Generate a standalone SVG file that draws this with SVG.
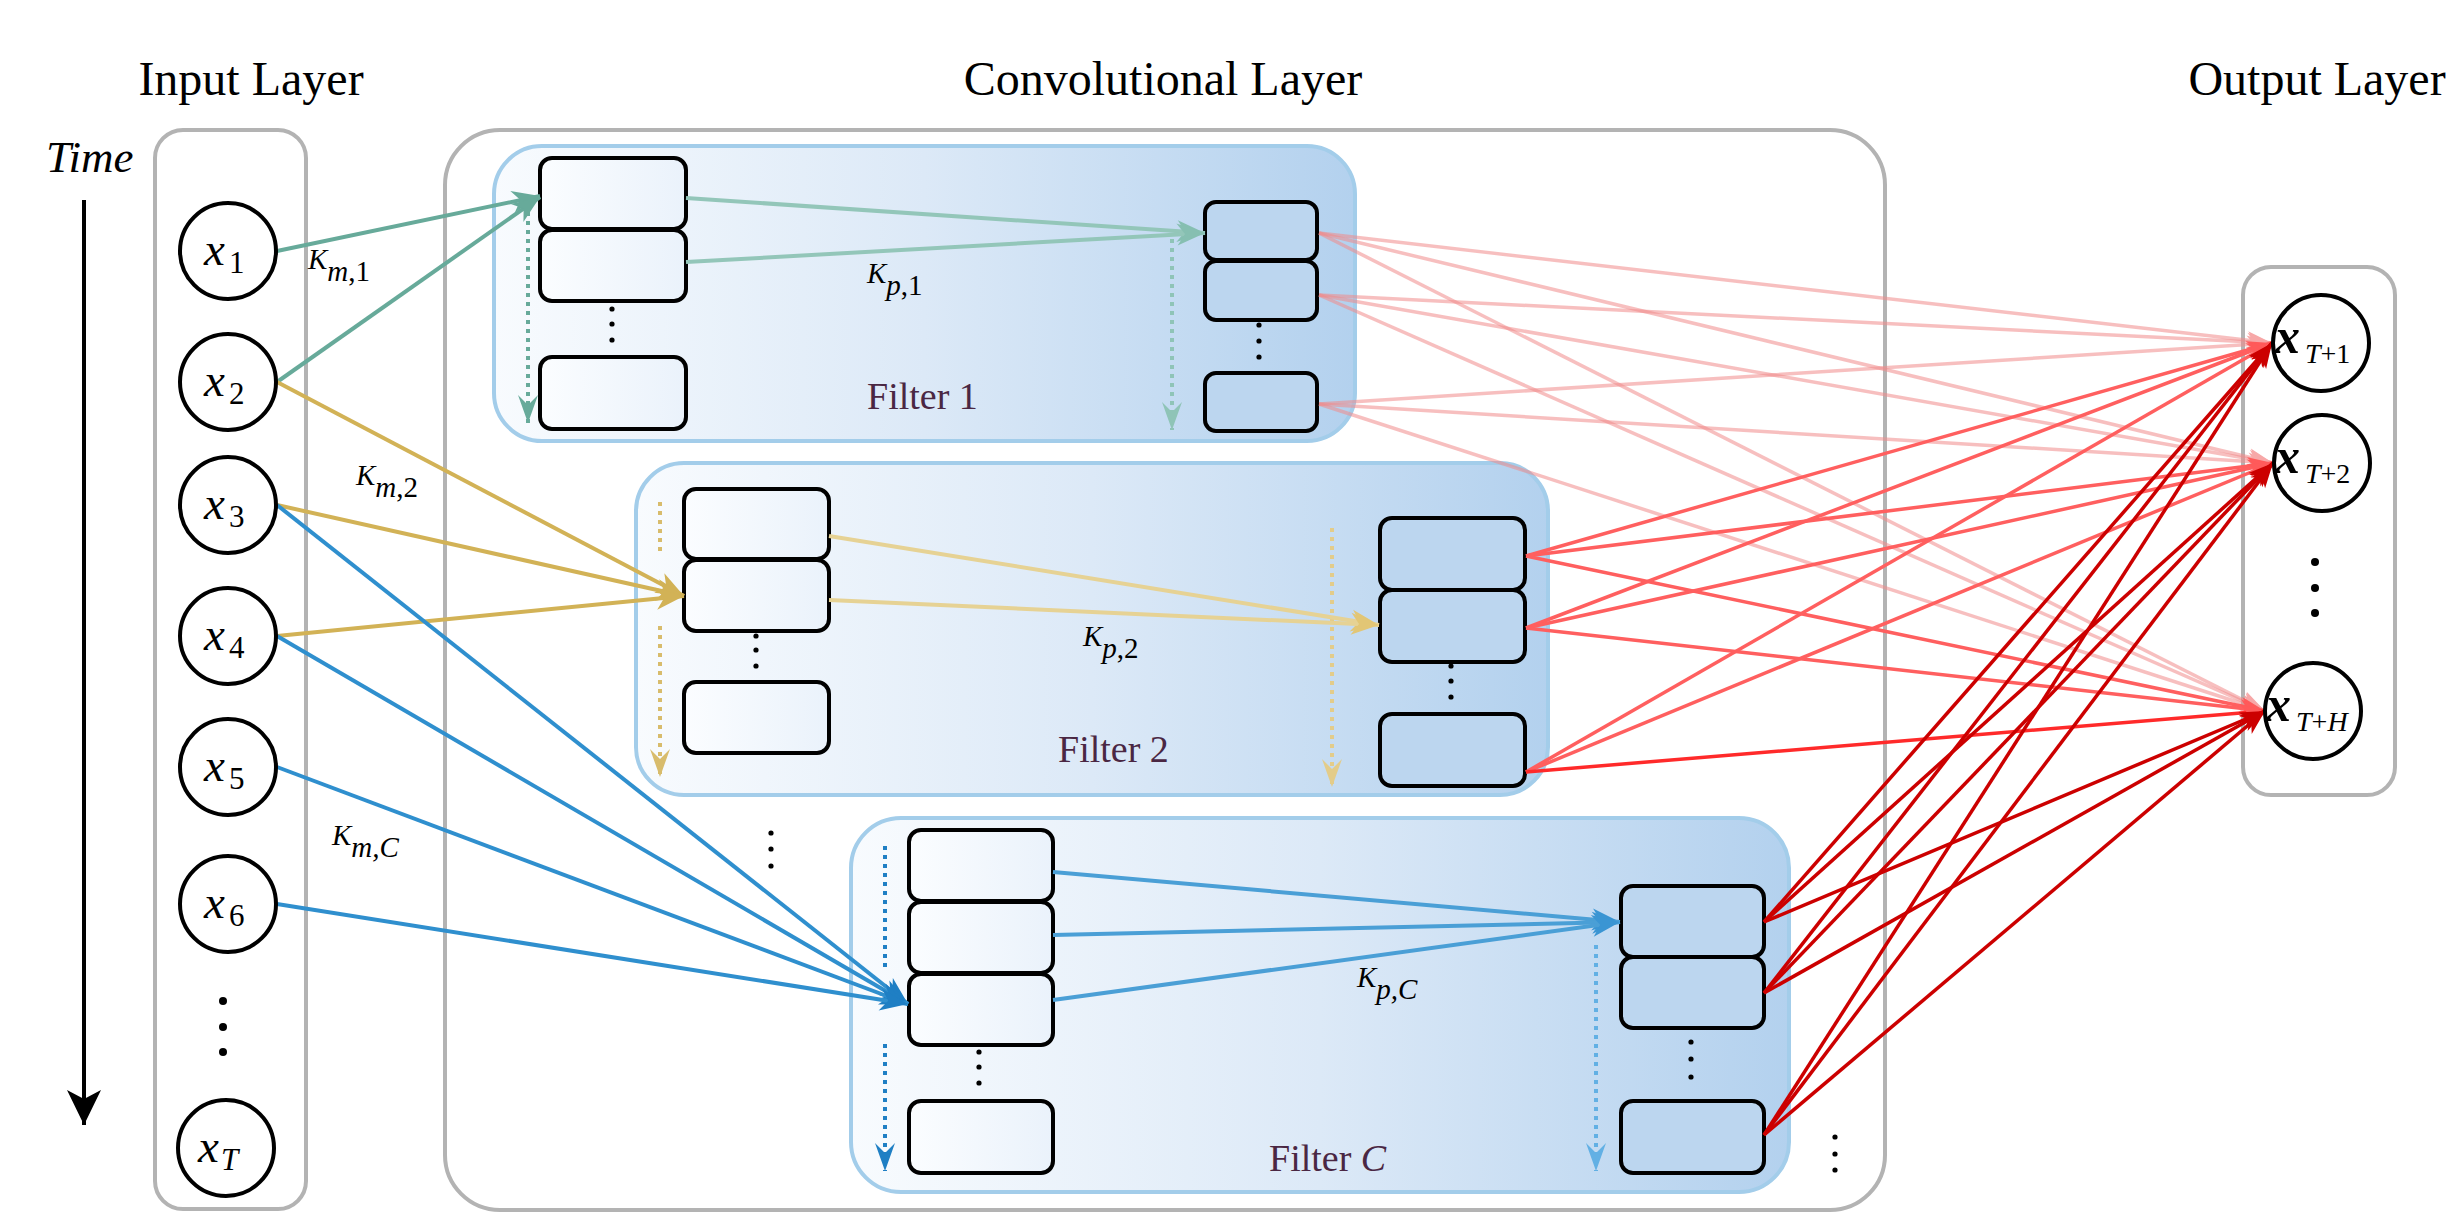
<svg xmlns="http://www.w3.org/2000/svg" width="2463" height="1229" viewBox="0 0 2463 1229">
<style>
.title{font-family:"Liberation Serif",serif;font-size:48px;fill:#000}
.math{font-family:"Liberation Serif",serif;font-style:italic;fill:#000}
.up{font-style:normal}
.xl{font-size:47px}
.xs{font-size:31px}
.kl{font-size:29px}
.flab{font-family:"Liberation Serif",serif;font-size:38px;fill:#4a2743}
.lay{fill:#fff;stroke:#b3b3b3;stroke-width:4}
.filt{fill:url(#gF);stroke:#a3cdea;stroke-width:4}
.node{fill:#fff;stroke:#000;stroke-width:4}
.bl{fill:url(#gL);stroke:#000;stroke-width:4}
.br{fill:#bcd6ef;stroke:#000;stroke-width:4}
.c{fill:none;stroke-width:4}
.d{fill:none;stroke-width:4;stroke-dasharray:4 5}
.r{fill:none;stroke-width:3.5}
.dot{fill:#000}
</style>
<defs>
<linearGradient id="gF" x1="0" y1="0" x2="1" y2="0">
<stop offset="0" stop-color="#f8fbfe"/>
<stop offset="0.5" stop-color="#dce9f7"/>
<stop offset="1" stop-color="#b3d1ee"/>
</linearGradient>
<linearGradient id="gL" x1="0" y1="0" x2="1" y2="0">
<stop offset="0" stop-color="#fbfdff"/>
<stop offset="1" stop-color="#eaf2fb"/>
</linearGradient>
<marker id="mTime" viewBox="-36 -18 38 36" refX="0" refY="0" markerWidth="38" markerHeight="36" markerUnits="userSpaceOnUse" orient="auto"><path d="M0,0 L-35,-17 L-26,0 L-35,17 Z" fill="#000"/></marker>
<marker id="mTeal" viewBox="-30 -12 32 24" refX="0" refY="0" markerWidth="32" markerHeight="24" markerUnits="userSpaceOnUse" orient="auto"><path d="M0,0 L-28,-11 L-20,0 L-28,11 Z" fill="#67aa9a"/></marker>
<marker id="mTealL" viewBox="-30 -12 32 24" refX="0" refY="0" markerWidth="32" markerHeight="24" markerUnits="userSpaceOnUse" orient="auto"><path d="M0,0 L-28,-11 L-20,0 L-28,11 Z" fill="#86bfb1"/></marker>
<marker id="mYel" viewBox="-30 -12 32 24" refX="0" refY="0" markerWidth="32" markerHeight="24" markerUnits="userSpaceOnUse" orient="auto"><path d="M0,0 L-28,-11 L-20,0 L-28,11 Z" fill="#d2b256"/></marker>
<marker id="mYelL" viewBox="-30 -12 32 24" refX="0" refY="0" markerWidth="32" markerHeight="24" markerUnits="userSpaceOnUse" orient="auto"><path d="M0,0 L-28,-11 L-20,0 L-28,11 Z" fill="#e2c675"/></marker>
<marker id="mBlue" viewBox="-30 -12 32 24" refX="0" refY="0" markerWidth="32" markerHeight="24" markerUnits="userSpaceOnUse" orient="auto"><path d="M0,0 L-28,-11 L-20,0 L-28,11 Z" fill="#1f7fc4"/></marker>
<marker id="mBlueL" viewBox="-30 -12 32 24" refX="0" refY="0" markerWidth="32" markerHeight="24" markerUnits="userSpaceOnUse" orient="auto"><path d="M0,0 L-28,-11 L-20,0 L-28,11 Z" fill="#3a95d3"/></marker>
<marker id="mDTeal" viewBox="-30 -12 32 24" refX="0" refY="0" markerWidth="32" markerHeight="24" markerUnits="userSpaceOnUse" orient="auto"><path d="M0,0 L-28,-10 L-18,0 L-28,10 Z" fill="#67aa9a"/></marker>
<marker id="mDTealL" viewBox="-30 -12 32 24" refX="0" refY="0" markerWidth="32" markerHeight="24" markerUnits="userSpaceOnUse" orient="auto"><path d="M0,0 L-28,-10 L-18,0 L-28,10 Z" fill="#8fc4b7"/></marker>
<marker id="mDYel" viewBox="-30 -12 32 24" refX="0" refY="0" markerWidth="32" markerHeight="24" markerUnits="userSpaceOnUse" orient="auto"><path d="M0,0 L-28,-10 L-18,0 L-28,10 Z" fill="#d8bc6c"/></marker>
<marker id="mDYelL" viewBox="-30 -12 32 24" refX="0" refY="0" markerWidth="32" markerHeight="24" markerUnits="userSpaceOnUse" orient="auto"><path d="M0,0 L-28,-10 L-18,0 L-28,10 Z" fill="#e3cc8a"/></marker>
<marker id="mDBlue" viewBox="-30 -12 32 24" refX="0" refY="0" markerWidth="32" markerHeight="24" markerUnits="userSpaceOnUse" orient="auto"><path d="M0,0 L-28,-10 L-18,0 L-28,10 Z" fill="#1f7fc4"/></marker>
<marker id="mDBlueL" viewBox="-30 -12 32 24" refX="0" refY="0" markerWidth="32" markerHeight="24" markerUnits="userSpaceOnUse" orient="auto"><path d="M0,0 L-28,-10 L-18,0 L-28,10 Z" fill="#62b0e4"/></marker>
<marker id="mR1" viewBox="-28 -11 30 22" refX="0" refY="0" markerWidth="30" markerHeight="22" markerUnits="userSpaceOnUse" orient="auto"><path d="M0,0 L-25,-9 L-18,0 L-25,9 Z" fill="#f7a8a8"/></marker>
<marker id="mR2" viewBox="-28 -11 30 22" refX="0" refY="0" markerWidth="30" markerHeight="22" markerUnits="userSpaceOnUse" orient="auto"><path d="M0,0 L-25,-9 L-18,0 L-25,9 Z" fill="#ff5a5a"/></marker>
<marker id="mR3" viewBox="-28 -11 30 22" refX="0" refY="0" markerWidth="30" markerHeight="22" markerUnits="userSpaceOnUse" orient="auto"><path d="M0,0 L-25,-9 L-18,0 L-25,9 Z" fill="#cc0000"/></marker>
</defs>
<rect width="2463" height="1229" fill="#fff"/>

<!-- titles -->
<text class="title" x="251" y="95" text-anchor="middle">Input Layer</text>
<text class="title" x="1163" y="95" text-anchor="middle">Convolutional Layer</text>
<text class="title" x="2317" y="95" text-anchor="middle">Output Layer</text>
<text class="math" x="46" y="172" font-size="45">Time</text>

<!-- layer boxes -->
<g id="input-layer"><rect class="lay" x="155" y="130" width="151" height="1079" rx="28"/></g>
<g id="conv-layer"><rect class="lay" x="445" y="130" width="1440" height="1080" rx="55"/></g>
<g id="output-layer"><rect class="lay" x="2243" y="267" width="152" height="528" rx="28"/></g>

<!-- filter 1 -->
<g id="filter1">
<rect class="filt" x="494" y="146" width="861" height="295" rx="48"/>
<text class="flab" x="867" y="409">Filter 1</text>
<circle class="dot" cx="612" cy="309" r="2.6"/><circle class="dot" cx="612" cy="324" r="2.6"/><circle class="dot" cx="612" cy="340" r="2.6"/>
<circle class="dot" cx="1259" cy="325" r="2.6"/><circle class="dot" cx="1259" cy="341" r="2.6"/><circle class="dot" cx="1259" cy="357" r="2.6"/>
<rect class="bl" x="540" y="158" width="146" height="71" rx="12"/>
<rect class="bl" x="540" y="230" width="146" height="71" rx="12"/>
<rect class="bl" x="540" y="357" width="146" height="72" rx="12"/>
<rect class="br" x="1205" y="202" width="112" height="58" rx="11"/>
<rect class="br" x="1205" y="261" width="112" height="59" rx="11"/>
<rect class="br" x="1205" y="373" width="112" height="58" rx="11"/>
</g>

<!-- filter 2 -->
<g id="filter2">
<rect class="filt" x="636" y="463" width="912" height="332" rx="48"/>
<text class="flab" x="1058" y="762">Filter 2</text>
<circle class="dot" cx="756" cy="636" r="2.6"/><circle class="dot" cx="756" cy="650" r="2.6"/><circle class="dot" cx="756" cy="666" r="2.6"/>
<circle class="dot" cx="1451" cy="666" r="2.6"/><circle class="dot" cx="1451" cy="681" r="2.6"/><circle class="dot" cx="1451" cy="697" r="2.6"/>
<rect class="bl" x="684" y="489" width="145" height="70" rx="12"/>
<rect class="bl" x="684" y="560" width="145" height="71" rx="12"/>
<rect class="bl" x="684" y="682" width="145" height="71" rx="12"/>
<rect class="br" x="1380" y="518" width="145" height="72" rx="12"/>
<rect class="br" x="1380" y="590" width="145" height="72" rx="12"/>
<rect class="br" x="1380" y="714" width="145" height="72" rx="12"/>
</g>

<!-- filter C -->
<g id="filterC">
<rect class="filt" x="851" y="818" width="938" height="374" rx="50"/>
<text class="flab" x="1269" y="1171">Filter <tspan font-style="italic">C</tspan></text>
<circle class="dot" cx="979" cy="1052" r="2.6"/><circle class="dot" cx="979" cy="1067" r="2.6"/><circle class="dot" cx="979" cy="1083" r="2.6"/>
<circle class="dot" cx="1691" cy="1042" r="2.6"/><circle class="dot" cx="1691" cy="1059" r="2.6"/><circle class="dot" cx="1691" cy="1077" r="2.6"/>
<rect class="bl" x="909" y="830" width="144" height="71" rx="12"/>
<rect class="bl" x="909" y="902" width="144" height="71" rx="12"/>
<rect class="bl" x="909" y="974" width="144" height="71" rx="12"/>
<rect class="bl" x="909" y="1101" width="144" height="72" rx="12"/>
<rect class="br" x="1621" y="886" width="143" height="71" rx="12"/>
<rect class="br" x="1621" y="957" width="143" height="71" rx="12"/>
<rect class="br" x="1621" y="1101" width="143" height="72" rx="12"/>
</g>

<!-- other dots -->
<g id="ellipses">
<circle class="dot" cx="223" cy="1001" r="4"/><circle class="dot" cx="223" cy="1027" r="4"/><circle class="dot" cx="223" cy="1052" r="4"/>
<circle class="dot" cx="2315" cy="562" r="4"/><circle class="dot" cx="2315" cy="588" r="4"/><circle class="dot" cx="2315" cy="613" r="4"/>
<circle class="dot" cx="771" cy="833" r="2.6"/><circle class="dot" cx="771" cy="849" r="2.6"/><circle class="dot" cx="771" cy="866" r="2.6"/>
<circle class="dot" cx="1835" cy="1137" r="2.6"/><circle class="dot" cx="1835" cy="1154" r="2.6"/><circle class="dot" cx="1835" cy="1170" r="2.6"/>
</g>

<!-- connectors -->
<g id="connectors">
<line x1="84" y1="200" x2="84" y2="1125" stroke="#000" stroke-width="4" marker-end="url(#mTime)"/>
<!-- dotted -->
<line class="d" x1="528" y1="212" x2="528" y2="423" stroke="#67aa9a" marker-end="url(#mDTeal)"/>
<line class="d" x1="1172" y1="239" x2="1172" y2="430" stroke="#8fc4b7" marker-end="url(#mDTealL)"/>
<line class="d" x1="660" y1="502" x2="660" y2="556" stroke="#d8bc6c"/>
<line class="d" x1="660" y1="626" x2="660" y2="777" stroke="#d8bc6c" marker-end="url(#mDYel)"/>
<line class="d" x1="1332" y1="528" x2="1332" y2="787" stroke="#e3cc8a" marker-end="url(#mDYelL)"/>
<line class="d" x1="885" y1="846" x2="885" y2="972" stroke="#1f7fc4"/>
<line class="d" x1="885" y1="1044" x2="885" y2="1171" stroke="#1f7fc4" marker-end="url(#mDBlue)"/>
<line class="d" x1="1596" y1="945" x2="1596" y2="1171" stroke="#62b0e4" marker-end="url(#mDBlueL)"/>
<!-- filter 1 -->
<line class="c" x1="277" y1="251" x2="540" y2="196" stroke="#67aa9a" marker-end="url(#mTeal)"/>
<line class="c" x1="277" y1="382" x2="540" y2="197" stroke="#67aa9a" marker-end="url(#mTeal)"/>
<line class="c" x1="686" y1="198" x2="1205" y2="233" stroke="#93c6b9" marker-end="url(#mTealL)"/>
<line class="c" x1="686" y1="262" x2="1205" y2="233" stroke="#93c6b9" marker-end="url(#mTealL)"/>
<!-- filter 2 -->
<line class="c" x1="277" y1="382" x2="684" y2="596" stroke="#d2b256" marker-end="url(#mYel)"/>
<line class="c" x1="277" y1="505" x2="684" y2="596" stroke="#d2b256" marker-end="url(#mYel)"/>
<line class="c" x1="277" y1="636" x2="684" y2="596" stroke="#d2b256" marker-end="url(#mYel)"/>
<line class="c" x1="829" y1="536" x2="1379" y2="625" stroke="#e6d294" marker-end="url(#mYelL)"/>
<line class="c" x1="829" y1="600" x2="1379" y2="625" stroke="#e6d294" marker-end="url(#mYelL)"/>
<!-- filter C -->
<line class="c" x1="277" y1="505" x2="908" y2="1004" stroke="#2f8fce" marker-end="url(#mBlue)"/>
<line class="c" x1="277" y1="636" x2="908" y2="1004" stroke="#2f8fce" marker-end="url(#mBlue)"/>
<line class="c" x1="277" y1="767" x2="908" y2="1004" stroke="#2f8fce" marker-end="url(#mBlue)"/>
<line class="c" x1="277" y1="904" x2="908" y2="1004" stroke="#2f8fce" marker-end="url(#mBlue)"/>
<line class="c" x1="1053" y1="872" x2="1620" y2="922" stroke="#4a9fd6" marker-end="url(#mBlueL)"/>
<line class="c" x1="1053" y1="935" x2="1620" y2="922" stroke="#4a9fd6" marker-end="url(#mBlueL)"/>
<line class="c" x1="1053" y1="1000" x2="1620" y2="922" stroke="#4a9fd6" marker-end="url(#mBlueL)"/>
<!-- to output: filter 1 -->
<g stroke="#f08a8a" stroke-opacity="0.55" class="r">
<line x1="1319" y1="233" x2="2272" y2="343" marker-end="url(#mR1)"/>
<line x1="1319" y1="233" x2="2273" y2="463" marker-end="url(#mR1)"/>
<line x1="1319" y1="233" x2="2265" y2="711" marker-end="url(#mR1)"/>
<line x1="1319" y1="295" x2="2272" y2="343" marker-end="url(#mR1)"/>
<line x1="1319" y1="295" x2="2273" y2="463" marker-end="url(#mR1)"/>
<line x1="1319" y1="295" x2="2265" y2="711" marker-end="url(#mR1)"/>
<line x1="1319" y1="404" x2="2272" y2="343" marker-end="url(#mR1)"/>
<line x1="1319" y1="404" x2="2273" y2="463" marker-end="url(#mR1)"/>
<line x1="1319" y1="404" x2="2265" y2="711" marker-end="url(#mR1)"/>
</g>
<!-- filter 2 -->
<g stroke="#ff5f5f" class="r">
<line x1="1526" y1="556" x2="2272" y2="343" marker-end="url(#mR2)"/>
<line x1="1526" y1="556" x2="2273" y2="463" marker-end="url(#mR2)"/>
<line x1="1526" y1="556" x2="2265" y2="711" marker-end="url(#mR2)"/>
<line x1="1526" y1="628" x2="2272" y2="343" marker-end="url(#mR2)"/>
<line x1="1526" y1="628" x2="2273" y2="463" marker-end="url(#mR2)"/>
<line x1="1526" y1="628" x2="2265" y2="711" marker-end="url(#mR2)"/>
<line x1="1526" y1="772" x2="2272" y2="343" marker-end="url(#mR2)"/>
<line x1="1526" y1="772" x2="2273" y2="463" marker-end="url(#mR2)"/>
<line x1="1526" y1="772" x2="2265" y2="711" stroke="#ff2a2a" marker-end="url(#mR2)"/>
</g>
<!-- filter C -->
<g stroke="#cc0000" class="r">
<line x1="1764" y1="922" x2="2272" y2="343" marker-end="url(#mR3)"/>
<line x1="1764" y1="922" x2="2273" y2="463" marker-end="url(#mR3)"/>
<line x1="1764" y1="922" x2="2265" y2="711" marker-end="url(#mR3)"/>
<line x1="1764" y1="993" x2="2272" y2="343" marker-end="url(#mR3)"/>
<line x1="1764" y1="993" x2="2273" y2="463" marker-end="url(#mR3)"/>
<line x1="1764" y1="993" x2="2265" y2="711" marker-end="url(#mR3)"/>
<line x1="1764" y1="1135" x2="2272" y2="343" marker-end="url(#mR3)"/>
<line x1="1764" y1="1135" x2="2273" y2="463" marker-end="url(#mR3)"/>
<line x1="1764" y1="1135" x2="2265" y2="711" marker-end="url(#mR3)"/>
</g>
</g>

<!-- kernel labels -->
<g id="labels">
<text class="math kl" x="308" y="269">K<tspan dy="12">m</tspan><tspan class="up">,1</tspan></text>
<text class="math kl" x="356" y="485">K<tspan dy="12">m</tspan><tspan class="up">,2</tspan></text>
<text class="math kl" x="332" y="845">K<tspan dy="12">m,C</tspan></text>
<text class="math kl" x="867" y="283">K<tspan dy="12">p</tspan><tspan class="up">,1</tspan></text>
<text class="math kl" x="1083" y="646">K<tspan dy="12">p</tspan><tspan class="up">,2</tspan></text>
<text class="math kl" x="1357" y="987">K<tspan dy="12">p,C</tspan></text>
</g>

<!-- input nodes -->
<g id="x1"><circle class="node" cx="228" cy="251" r="48"/><text class="math xl" x="204" y="265">x<tspan class="xs up" dx="4" dy="8">1</tspan></text></g>
<g id="x2"><circle class="node" cx="228" cy="382" r="48"/><text class="math xl" x="204" y="396">x<tspan class="xs up" dx="4" dy="8">2</tspan></text></g>
<g id="x3"><circle class="node" cx="228" cy="505" r="48"/><text class="math xl" x="204" y="519">x<tspan class="xs up" dx="4" dy="8">3</tspan></text></g>
<g id="x4"><circle class="node" cx="228" cy="636" r="48"/><text class="math xl" x="204" y="650">x<tspan class="xs up" dx="4" dy="8">4</tspan></text></g>
<g id="x5"><circle class="node" cx="228" cy="767" r="48"/><text class="math xl" x="204" y="781">x<tspan class="xs up" dx="4" dy="8">5</tspan></text></g>
<g id="x6"><circle class="node" cx="228" cy="904" r="48"/><text class="math xl" x="204" y="918">x<tspan class="xs up" dx="4" dy="8">6</tspan></text></g>
<g id="xT"><circle class="node" cx="226" cy="1148" r="48"/><text class="math xl" x="198" y="1162">x<tspan class="xs" dx="2" dy="8">T</tspan></text></g>

<!-- output nodes -->
<g id="xT1"><circle class="node" cx="2321" cy="343" r="48" style="fill:none"/><text class="math" x="2275" y="353" font-size="50" font-weight="bold">x<tspan font-size="28" font-weight="normal" dx="5" dy="10">T<tspan class="up">+1</tspan></tspan></text></g>
<g id="xT2"><circle class="node" cx="2322" cy="463" r="48" style="fill:none"/><text class="math" x="2275" y="473" font-size="50" font-weight="bold">x<tspan font-size="28" font-weight="normal" dx="5" dy="10">T<tspan class="up">+2</tspan></tspan></text></g>
<g id="xTH"><circle class="node" cx="2313" cy="711" r="48" style="fill:none"/><text class="math" x="2266" y="721" font-size="50" font-weight="bold">x<tspan font-size="28" font-weight="normal" dx="5" dy="10">T<tspan class="up">+</tspan>H</tspan></text></g>
</svg>
